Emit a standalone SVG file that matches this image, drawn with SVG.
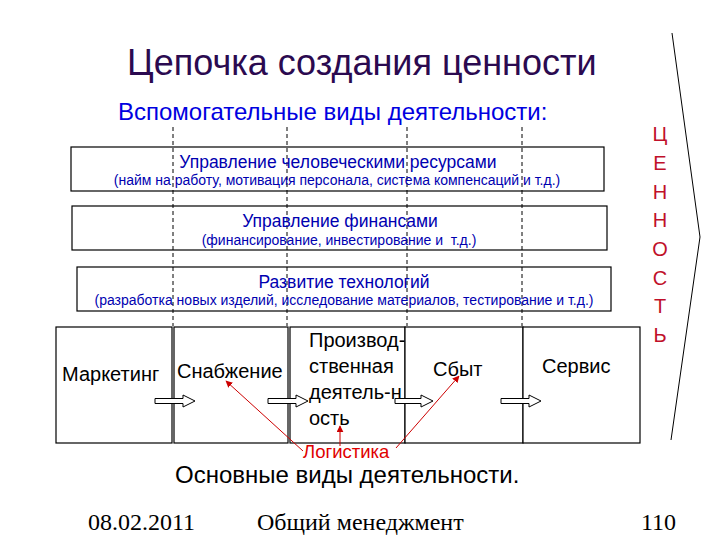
<svg xmlns="http://www.w3.org/2000/svg" width="720" height="540" viewBox="0 0 720 540">
<defs>
<style>
.sans{font-family:"Liberation Sans",Arial,sans-serif;}
.serif{font-family:"Liberation Serif","Times New Roman",serif;}
.box{fill:#fff;stroke:#000;stroke-width:1.2;}
.hd{font-size:17.5px;fill:#0000b0;text-anchor:middle;}
.sb{font-size:14px;fill:#0000b0;text-anchor:middle;}
.main{font-size:20px;fill:#000;}
.dash{stroke:#000;stroke-width:1;stroke-dasharray:4 3;fill:none;}
.blk{fill:#fff;stroke:#000;stroke-width:1;}
.red{stroke:#cc0000;stroke-width:1;fill:none;}
.val{font-size:20px;fill:#c0102a;text-anchor:middle;}
</style>
<marker id="rh" viewBox="0 0 10 10" refX="9" refY="5" markerWidth="7" markerHeight="7" orient="auto" markerUnits="userSpaceOnUse">
<path d="M0,0 L10,5 L0,10 z" fill="#cc0000"/>
</marker>
</defs>
<rect width="720" height="540" fill="#fff"/>

<g id="title">
<text class="sans" x="127" y="75" font-size="36" fill="#2b0a50">Цепочка создания ценности</text>
<text class="sans" x="118" y="120" font-size="24" fill="#0000e0">Вспомогательные виды деятельности:</text>
</g>

<g id="guides">
<line class="dash" x1="173" y1="127" x2="173" y2="326"/>
<line class="dash" x1="287" y1="127" x2="287" y2="326"/>
<line class="dash" x1="407" y1="127" x2="407" y2="326"/>
<line class="dash" x1="522" y1="127" x2="522" y2="326"/>
</g>

<g id="hr">
<rect class="box" x="71" y="147" width="533" height="44" fill-opacity="0"/>
<text class="sans hd" x="338" y="168">Управление человеческими ресурсами</text>
<text class="sans sb" x="337" y="185">(найм на работу, мотивация персонала, система компенсаций и т.д.)</text>
</g>
<g id="finance">
<rect class="box" x="72" y="206" width="535" height="44" fill-opacity="0"/>
<text class="sans hd" x="340" y="227">Управление финансами</text>
<text class="sans sb" x="339" y="245" xml:space="preserve">(финансирование, инвестирование и  т.д.)</text>
</g>
<g id="tech">
<rect class="box" x="77" y="267" width="534" height="44" fill-opacity="0"/>
<text class="sans hd" x="344" y="288">Развитие технологий</text>
<text class="sans sb" x="344" y="305">(разработка новых изделий, исследование материалов, тестирование и т.д.)</text>
</g>

<g id="marketing">
<rect class="box" x="56" y="327" width="116" height="116"/>
<text class="sans main" x="62" y="381">Маркетинг</text>
</g>
<g id="supply">
<rect class="box" x="174" y="327" width="114" height="116"/>
<text class="sans main" x="177" y="378">Снабжение</text>
</g>
<g id="production">
<rect class="box" x="290" y="327" width="115" height="116"/>
<text class="sans main" x="309" y="347">Производ-</text>
<text class="sans main" x="309" y="373">ственная</text>
<text class="sans main" x="309" y="399">деятель-н</text>
<text class="sans main" x="309" y="425">ость</text>
</g>
<g id="sales">
<rect class="box" x="405" y="327" width="118" height="116"/>
<text class="sans main" x="433" y="376">Сбыт</text>
</g>
<g id="service">
<rect class="box" x="523" y="327" width="117" height="116"/>
<text class="sans main" x="542" y="373">Сервис</text>
</g>

<g id="connectors">
<polygon class="blk" points="155,398.5 183,398.5 183,395 195,401 183,407 183,403.5 155,403.5"/>
<polygon class="blk" points="268,398.5 296,398.5 296,395 308,401 296,407 296,403.5 268,403.5"/>
<polygon class="blk" points="395,398.5 421,398.5 421,395 433,401 421,407 421,403.5 395,403.5"/>
<polygon class="blk" points="501,398.5 529,398.5 529,395 541,401 529,407 529,403.5 501,403.5"/>
<line class="red" x1="303" y1="451" x2="226" y2="381" marker-end="url(#rh)"/>
<line class="red" x1="340" y1="446" x2="340" y2="426" marker-end="url(#rh)"/>
<line class="red" x1="396" y1="448" x2="459" y2="376" marker-end="url(#rh)"/>
</g>

<g id="logistics">
<text class="sans" x="303" y="458" font-size="18.5" fill="#e00000">Логистика</text>
</g>

<g id="primary">
<text class="sans" x="175" y="483" font-size="24" fill="#000">Основные виды деятельности.</text>
</g>

<g id="value">
<polyline points="672,33 700,237 671,440" fill="none" stroke="#000" stroke-width="1"/>
<text class="sans val" x="660" y="141">Ц</text>
<text class="sans val" x="660" y="170">Е</text>
<text class="sans val" x="660" y="199">Н</text>
<text class="sans val" x="660" y="227">Н</text>
<text class="sans val" x="660" y="256">О</text>
<text class="sans val" x="660" y="285">С</text>
<text class="sans val" x="660" y="313">Т</text>
<text class="sans val" x="660" y="342">Ь</text>
</g>

<g id="footer">
<text class="serif" x="88" y="530" font-size="24" fill="#000">08.02.2011</text>
<text class="serif" x="257" y="530" font-size="24" fill="#000">Общий менеджмент</text>
<text class="serif" x="676" y="530" font-size="24" fill="#000" text-anchor="end">110</text>
</g>
</svg>
